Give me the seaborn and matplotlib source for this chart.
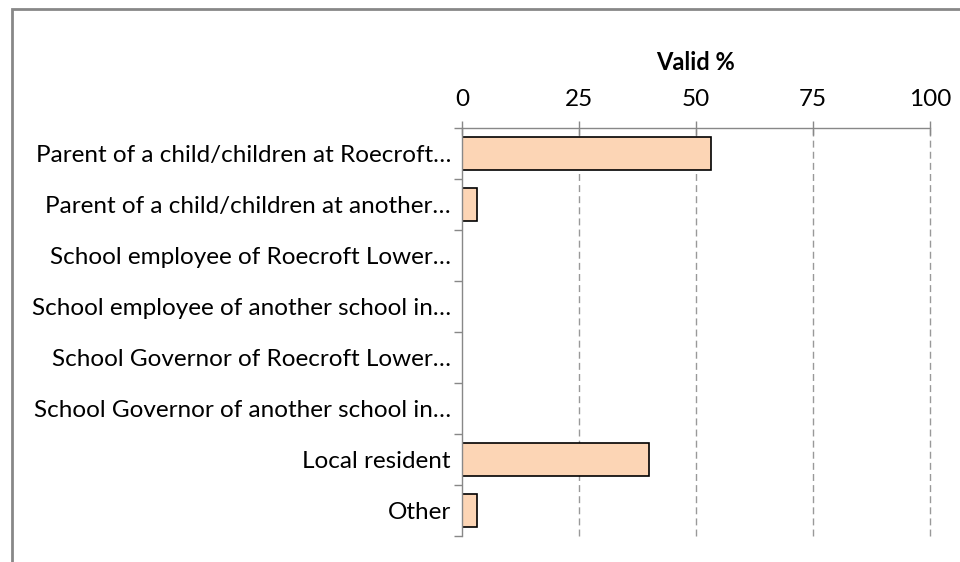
import matplotlib
matplotlib.use("Agg")
import matplotlib.pyplot as plt
import seaborn as sns
import pandas as pd
from matplotlib.patches import Rectangle

# Data
categories = [
    "Parent of a child/children at Roecroft…",
    "Parent of a child/children at another…",
    "School employee of Roecroft Lower…",
    "School employee of another school in…",
    "School Governor of Roecroft Lower…",
    "School Governor of another school in…",
    "Local resident",
    "Other",
]
valid_pct = [53.3, 3.3, 0, 0, 0, 0, 40.0, 3.3]
ticks = [0, 25, 50, 75, 100]

df = pd.DataFrame({"category": categories, "valid": valid_pct})

sns.set_style("white")
plt.rcParams["font.family"] = ["Lato", "DejaVu Sans"]
plt.rcParams["text.color"] = "black"
plt.rcParams["axes.labelcolor"] = "black"
plt.rcParams["xtick.labelcolor"] = "black"
plt.rcParams["ytick.labelcolor"] = "black"

fig = plt.figure(figsize=(9.6, 5.62), dpi=100)
ax = fig.add_axes([462 / 960, 1 - 536 / 562, (930 - 462) / 960, (536 - 128) / 562])

sns.barplot(data=df, x="valid", y="category", order=categories, color="#FCD5B5",
            edgecolor="black", linewidth=1.2, width=0.63, saturation=1, ax=ax)

ax.set_xlim(0, 100)
ax.set_ylim(len(categories) - 0.5, -0.5)
ax.xaxis.tick_top()
ax.xaxis.set_label_position("top")
ax.set_xticks(ticks)
ax.set_xticklabels([str(t) for t in ticks], fontsize=17.5)
ax.tick_params(axis="x", direction="inout", length=10, width=1, color="#888888",
               labelcolor="black", pad=8)
ax.set_xlabel("Valid %", fontsize=17, fontweight="bold", labelpad=14, color="black")
ax.set_ylabel("")

# category labels without tick marks, boundary ticks as minor
ax.tick_params(axis="y", which="major", length=0, pad=8, labelsize=17.5, labelcolor="black")
ax.set_yticks([i - 0.5 for i in range(len(categories) + 1)], minor=True)
ax.tick_params(axis="y", which="minor", left=True, direction="out", length=6,
               width=1, color="#888888")

for x in ticks[1:]:
    ax.axvline(x, color="#999999", linestyle=(0, (5, 3)), linewidth=1, zorder=0,
               clip_on=False)

for side in ["right", "bottom"]:
    ax.spines[side].set_visible(False)
for side in ["top", "left"]:
    ax.spines[side].set_color("#888888")
    ax.spines[side].set_linewidth(1)

# chart border (only top and left visible)
fig.patches.append(Rectangle((12 / 960, -0.1), 1.2, 1 - 9 / 562 + 0.1,
                             transform=fig.transFigure, fill=False,
                             edgecolor="#888888", linewidth=2))

fig.savefig("out.png", dpi=100)
